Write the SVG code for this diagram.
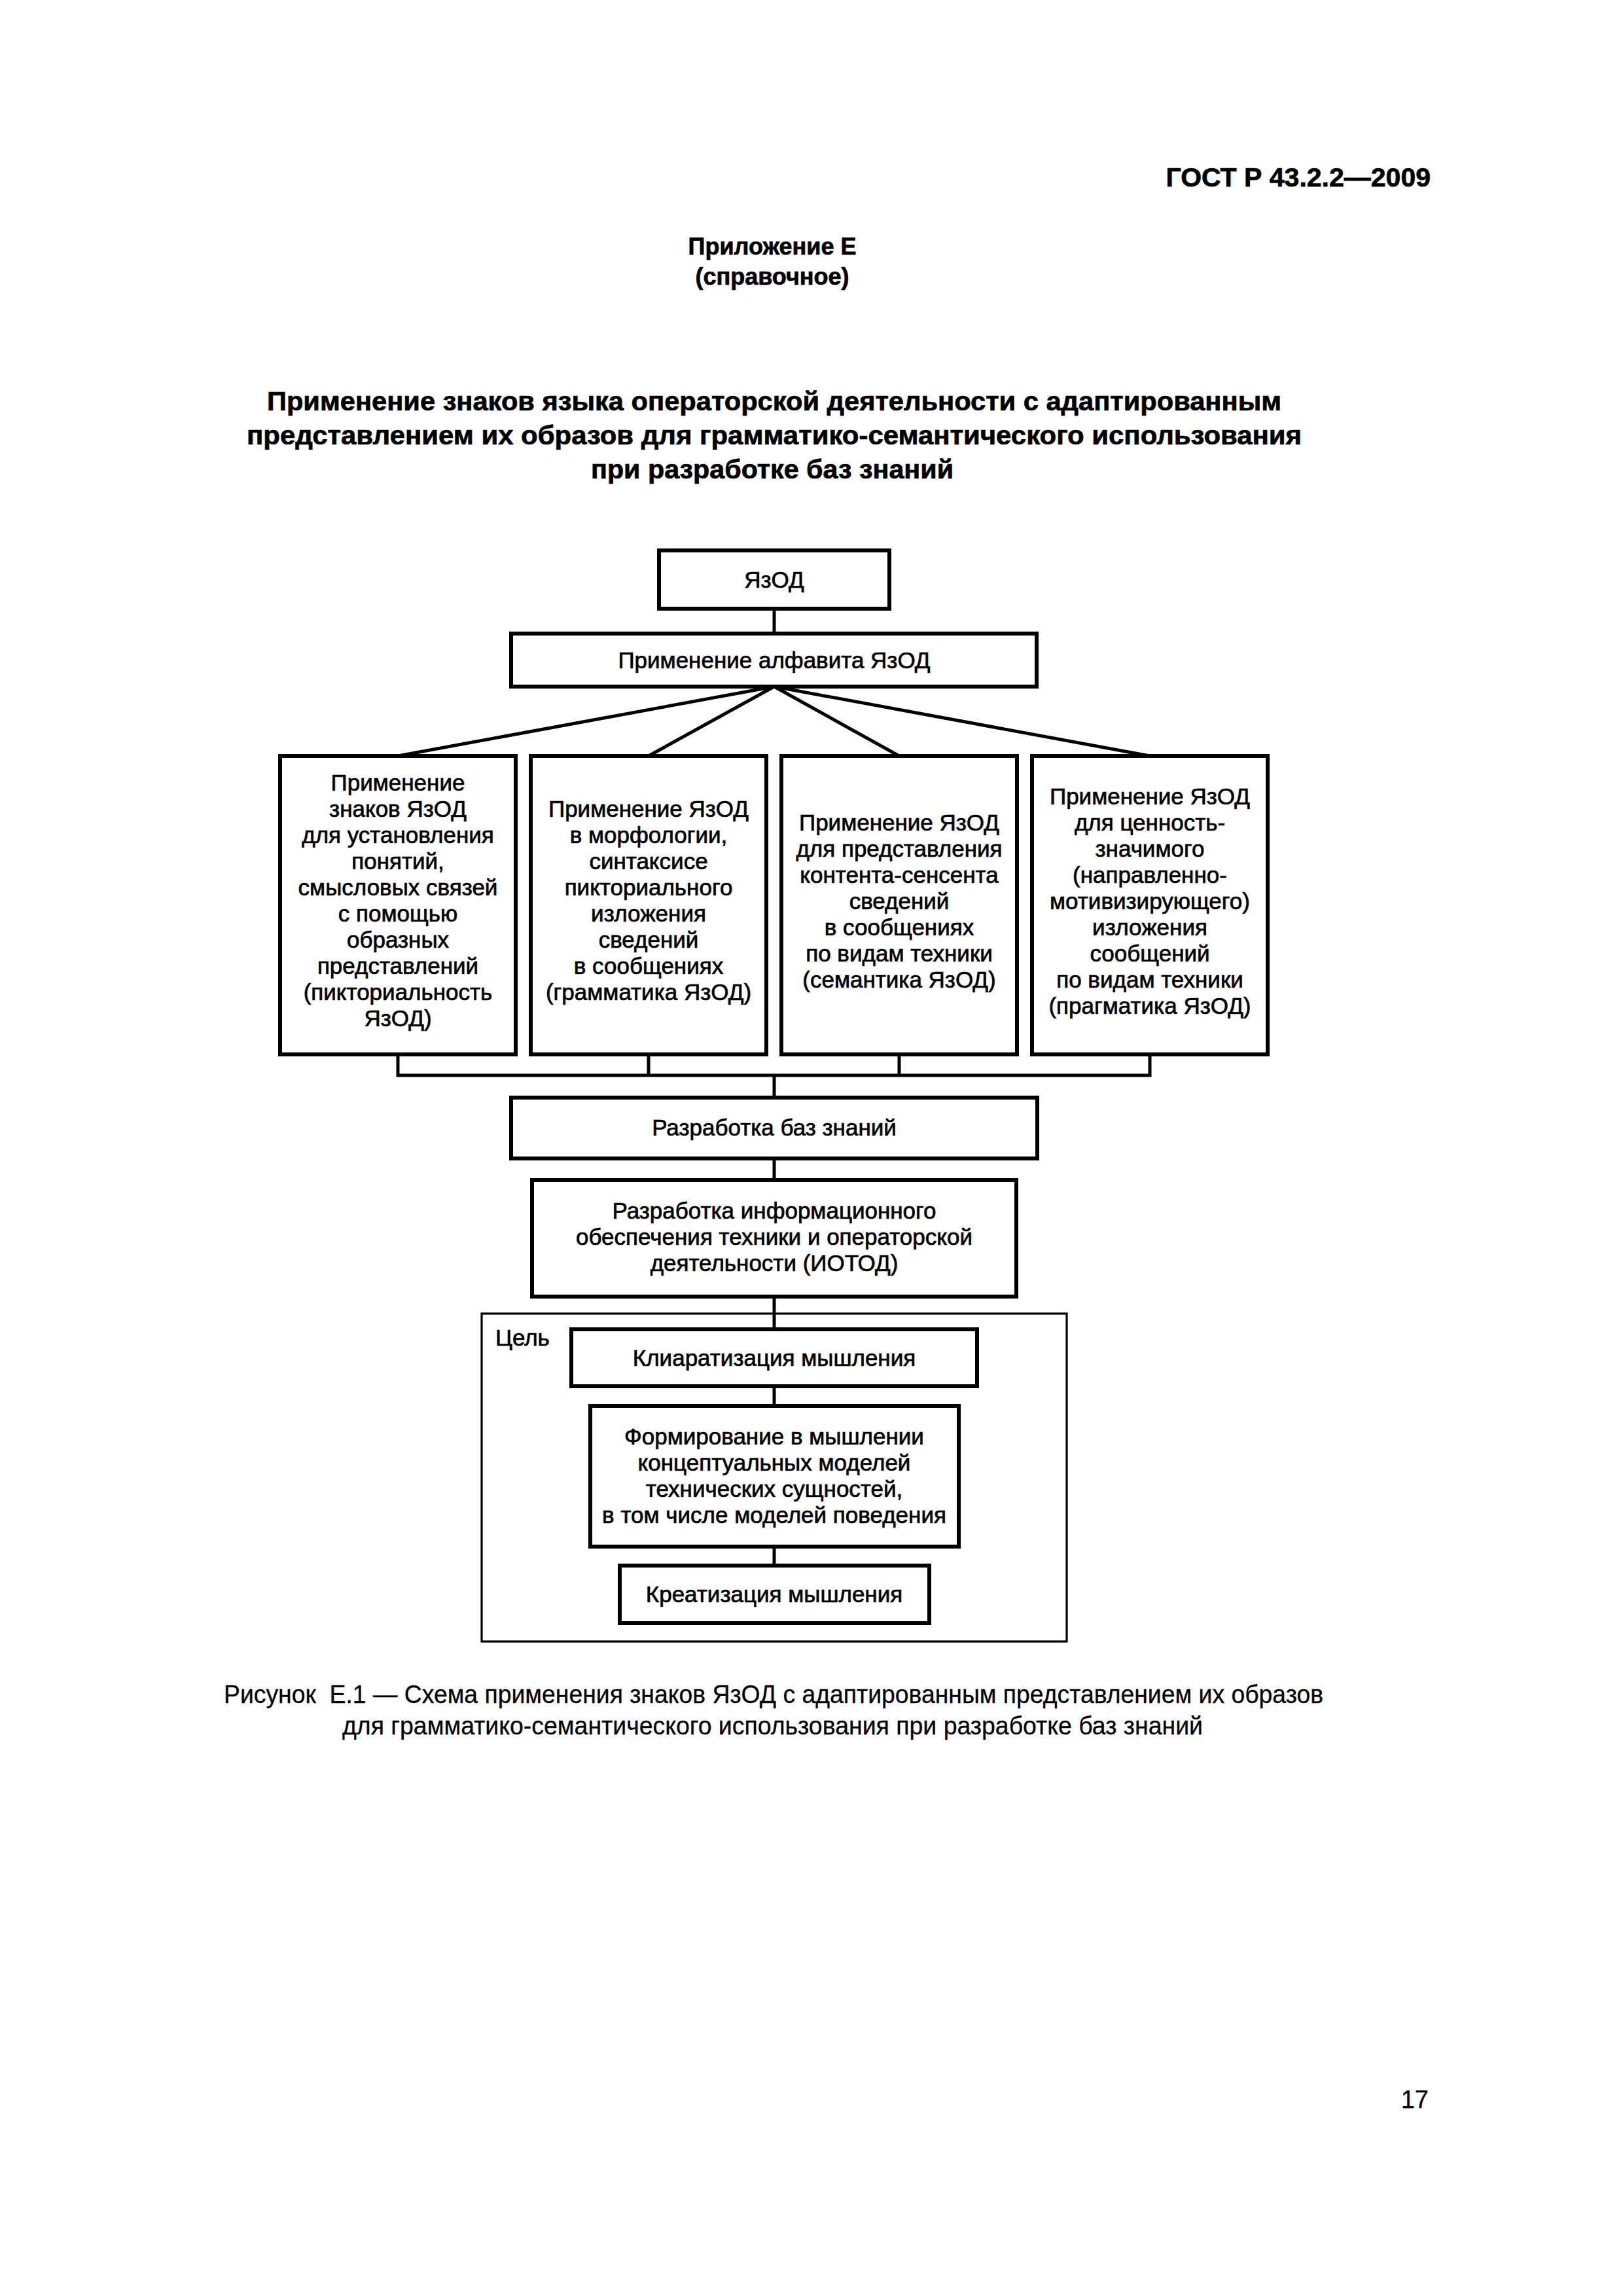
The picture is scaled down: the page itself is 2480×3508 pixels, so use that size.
<svg xmlns="http://www.w3.org/2000/svg" width="2480" height="3508" viewBox="0 0 2480 3508">
<style>
.bg{fill:#fff}
.box{fill:#fff;stroke:#000;stroke-width:6}
.frame{fill:none;stroke:#000;stroke-width:3.2}
.conn{fill:none;stroke:#000;stroke-width:5;stroke-linejoin:miter}
text{font-family:"Liberation Sans",Arial,sans-serif;fill:#000;stroke:#000;stroke-width:0.7}
.t{font-size:35px;text-anchor:middle}
.lbl{font-size:35px}
.hb{font-weight:bold}
.cap{font-size:38px;stroke-width:0.3}
</style>
<rect class="bg" x="0" y="0" width="2480" height="3508"/>
<g id="header">
<text class="hb" x="2186" y="285" font-size="41" text-anchor="end">ГОСТ Р 43.2.2—2009</text>
<text class="hb" x="1180" y="389" font-size="36" text-anchor="middle">Приложение Е</text>
<text class="hb" x="1180" y="435" font-size="36" text-anchor="middle">(справочное)</text>
<text class="hb" x="408" y="627" font-size="40" textLength="1550" lengthAdjust="spacingAndGlyphs">Применение знаков языка операторской деятельности с адаптированным</text>
<text class="hb" x="377" y="679" font-size="40" textLength="1612" lengthAdjust="spacingAndGlyphs">представлением их образов для грамматико-семантического использования</text>
<text class="hb" x="903" y="731" font-size="40" textLength="554" lengthAdjust="spacingAndGlyphs">при разработке баз знаний</text>
</g>
<g id="goal-frame">
<rect class="frame" x="736" y="2007" width="894" height="501"/>
<text class="lbl" x="757" y="2056">Цель</text>
</g>
<g id="connectors">
<path class="conn" d="M1183 930V968"/>
<path class="conn" d="M1183 1049L608 1155M1183 1049L991 1155M1183 1049L1374 1155M1183 1049L1757 1155"/>
<path class="conn" d="M608 1611V1643H1757V1611M991 1611V1643M1374 1611V1643M1183 1643V1677"/>
<path class="conn" d="M1183 1770V1803"/>
<path class="conn" d="M1183 1981V2031"/>
<path class="conn" d="M1183 2118V2148"/>
<path class="conn" d="M1183 2363V2392"/>
</g>
<g id="node-yazod">
<rect class="box" x="1007" y="841" width="352" height="89"/>
<text class="t" x="1183" y="898">ЯзОД</text>
</g>
<g id="node-alphabet">
<rect class="box" x="781" y="968" width="803" height="81"/>
<text class="t" x="1183" y="1021">Применение алфавита ЯзОД</text>
</g>
<g id="node-pictoriality">
<rect class="box" x="428" y="1155" width="360" height="456"/>
<text class="t" x="608" y="1208">Применение</text>
<text class="t" x="608" y="1248">знаков ЯзОД</text>
<text class="t" x="608" y="1288">для установления</text>
<text class="t" x="608" y="1328">понятий,</text>
<text class="t" x="608" y="1368">смысловых связей</text>
<text class="t" x="608" y="1408">с помощью</text>
<text class="t" x="608" y="1448">образных</text>
<text class="t" x="608" y="1488">представлений</text>
<text class="t" x="608" y="1528">(пикториальность</text>
<text class="t" x="608" y="1568">ЯзОД)</text>
</g>
<g id="node-grammar">
<rect class="box" x="811" y="1155" width="360" height="456"/>
<text class="t" x="991" y="1248">Применение ЯзОД</text>
<text class="t" x="991" y="1288">в морфологии,</text>
<text class="t" x="991" y="1328">синтаксисе</text>
<text class="t" x="991" y="1368">пикториального</text>
<text class="t" x="991" y="1408">изложения</text>
<text class="t" x="991" y="1448">сведений</text>
<text class="t" x="991" y="1488">в сообщениях</text>
<text class="t" x="991" y="1528">(грамматика ЯзОД)</text>
</g>
<g id="node-semantics">
<rect class="box" x="1194" y="1155" width="360" height="456"/>
<text class="t" x="1374" y="1269">Применение ЯзОД</text>
<text class="t" x="1374" y="1309">для представления</text>
<text class="t" x="1374" y="1349">контента-сенсента</text>
<text class="t" x="1374" y="1389">сведений</text>
<text class="t" x="1374" y="1429">в сообщениях</text>
<text class="t" x="1374" y="1469">по видам техники</text>
<text class="t" x="1374" y="1509">(семантика ЯзОД)</text>
</g>
<g id="node-pragmatics">
<rect class="box" x="1577" y="1155" width="360" height="456"/>
<text class="t" x="1757" y="1229">Применение ЯзОД</text>
<text class="t" x="1757" y="1269">для ценность-</text>
<text class="t" x="1757" y="1309">значимого</text>
<text class="t" x="1757" y="1349">(направленно-</text>
<text class="t" x="1757" y="1389">мотивизирующего)</text>
<text class="t" x="1757" y="1429">изложения</text>
<text class="t" x="1757" y="1469">сообщений</text>
<text class="t" x="1757" y="1509">по видам техники</text>
<text class="t" x="1757" y="1549">(прагматика ЯзОД)</text>
</g>
<g id="node-kb">
<rect class="box" x="781" y="1677" width="804" height="93"/>
<text class="t" x="1183" y="1735">Разработка баз знаний</text>
</g>
<g id="node-iotod">
<rect class="box" x="813" y="1803" width="740" height="178"/>
<text class="t" x="1183" y="1862">Разработка информационного</text>
<text class="t" x="1183" y="1902">обеспечения техники и операторской</text>
<text class="t" x="1183" y="1942">деятельности (ИОТОД)</text>
</g>
<g id="node-clarity">
<rect class="box" x="873" y="2031" width="620" height="87"/>
<text class="t" x="1183" y="2087">Клиаратизация мышления</text>
</g>
<g id="node-models">
<rect class="box" x="902" y="2148" width="563" height="215"/>
<text class="t" x="1183" y="2207">Формирование в мышлении</text>
<text class="t" x="1183" y="2247">концептуальных моделей</text>
<text class="t" x="1183" y="2287">технических сущностей,</text>
<text class="t" x="1183" y="2327">в том числе моделей поведения</text>
</g>
<g id="node-creativity">
<rect class="box" x="947" y="2392" width="473" height="88"/>
<text class="t" x="1183" y="2448">Креатизация мышления</text>
</g>
<g id="caption">
<text class="cap" x="342" y="2602" textLength="1680" lengthAdjust="spacingAndGlyphs" xml:space="preserve">Рисунок  Е.1 — Схема применения знаков ЯзОД с адаптированным представлением их образов</text>
<text class="cap" x="523" y="2650" textLength="1315" lengthAdjust="spacingAndGlyphs">для грамматико-семантического использования при разработке баз знаний</text>
<text class="cap" x="2183" y="3221" text-anchor="end">17</text>
</g>
</svg>
